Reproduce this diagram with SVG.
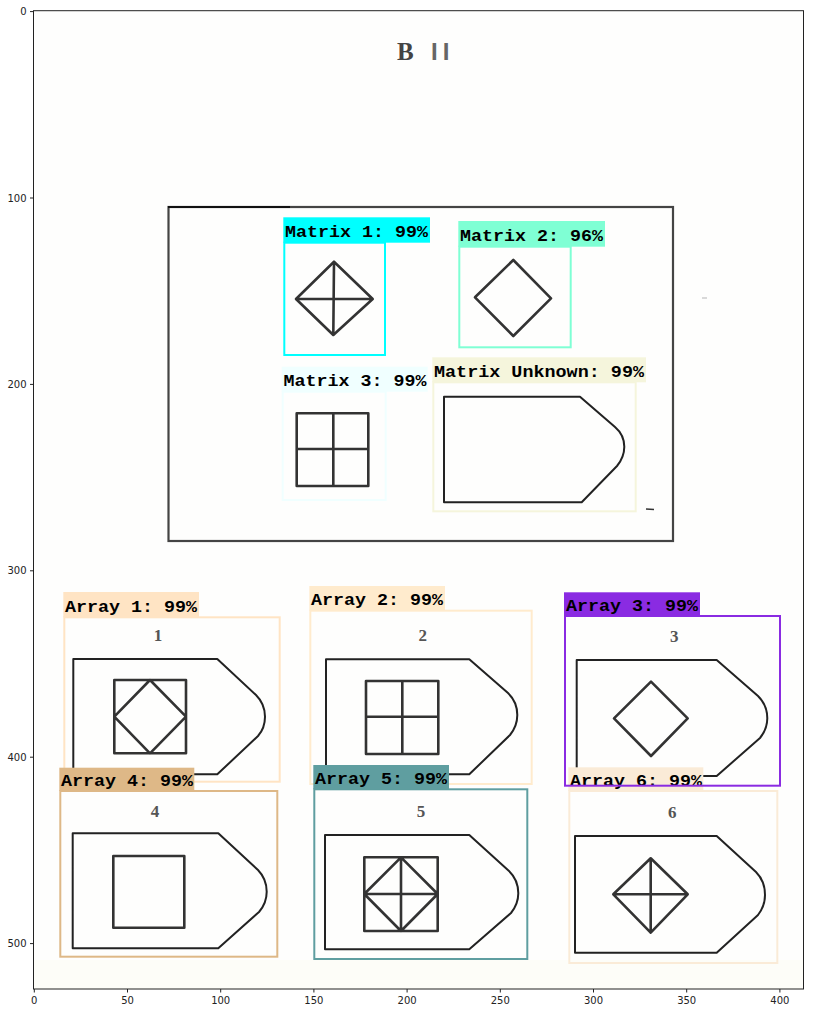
<svg xmlns="http://www.w3.org/2000/svg" width="813" height="1013" viewBox="0 0 813 1013">
<style>
.ax{fill:none;stroke:#222;stroke-width:1}
.tk{stroke:#222;stroke-width:1}
.tl{font-family:"DejaVu Sans",sans-serif;font-size:10px;fill:#222}
.sh{fill:none;stroke:#333;stroke-width:2.6;stroke-linejoin:round}
.pt{fill:none;stroke:#222;stroke-width:2;stroke-linejoin:round}
.bx{fill:none;stroke-width:2}
.lb{font-family:"Liberation Mono",monospace;font-weight:bold;font-size:17px;fill:#000}
.num{font-family:"Liberation Serif",serif;font-weight:bold;font-size:17px;fill:#555;text-anchor:middle}
</style>
<rect width="813" height="1013" fill="#ffffff"/>
<g id="image">
<rect x="33.5" y="10.7" width="770" height="978.3" fill="#fefefd"/>
<rect x="33.5" y="960" width="770" height="29" fill="#fdfdf8"/>
<text x="397" y="60" font-family="Liberation Serif,serif" font-weight="bold" font-size="25" fill="#444">B</text>
<text x="431" y="60" font-family="Liberation Sans,sans-serif" font-weight="bold" font-size="24" fill="#666" letter-spacing="5">II</text>
<rect x="168.5" y="207" width="504.5" height="334" fill="none" stroke="#444" stroke-width="2.2"/>
<line x1="168" y1="207" x2="290" y2="207" stroke="#111" stroke-width="2"/>
<line x1="646" y1="509" x2="654" y2="509.5" stroke="#333" stroke-width="1.5"/>
<line x1="702" y1="298" x2="707" y2="298" stroke="#ccc" stroke-width="1.5"/>
</g>
<g id="matrix-1">
<path class="sh" d="M334,261.7 L372.7,299 L333.3,335 L296,299 Z M334,261.7 L333.3,335 M296,299 L372.7,299"/>
</g>
<g id="matrix-2">
<path class="sh" d="M513.3,260 L551,298.3 L513.3,336 L475,297.3 Z"/>
</g>
<g id="matrix-3">
<path class="sh" d="M296.7,413.3 H368.3 V486 H296.7 Z M333.3,413.3 V486 M296.7,449 H368.3"/>
</g>
<g id="matrix-unknown">
<path class="pt" d="M444,396.7 H580 L615,427 Q624.3,435 624.3,446.7 Q624.3,457 617,466 L581.7,502.3 H444 Z"/>
</g>
<g id="array-1-shape">
<text class="num" x="158" y="641">1</text>
<path class="pt" d="M73.3,659 H217.3 L256,695 Q265,704 265,716.7 Q265,728 258,736 L217.3,774.3 H73.3 Z"/>
<path class="sh" d="M114.3,680 H186 V753.3 H114.3 Z M150,680 L186,716.7 L150,753.3 L114.3,716.7 Z"/>
</g>
<g id="array-2-shape">
<text class="num" x="422.7" y="641">2</text>
<path class="pt" d="M326,659.3 H469.3 L508,693 Q517.3,702 517.3,715 Q517.3,726 510,735 L469.3,774.3 H326 Z"/>
<path class="sh" d="M366,681 H438.3 V754 H366 Z M402.3,681 V754 M366,716.7 H438.3"/>
</g>
<g id="array-3-shape">
<text class="num" x="674.3" y="642">3</text>
<path class="pt" d="M576.7,660 H716.7 L758,696 Q767.3,705 767.3,718.3 Q767.3,729 760,738 L716.7,776 H576.7 Z"/>
<path class="sh" d="M651,681.7 L687.7,718.3 L651,756 L614,718.3 Z"/>
</g>
<g id="array-4-shape">
<text class="num" x="155" y="817">4</text>
<path class="pt" d="M72.7,833.3 H218.3 L258,870 Q266.7,879 266.7,891.7 Q266.7,903 259,912 L218.3,948.3 H72.7 Z"/>
<path class="sh" d="M113.3,856 H184.3 V927.7 H113.3 Z"/>
</g>
<g id="array-5-shape">
<text class="num" x="421" y="817">5</text>
<path class="pt" d="M325,835 H469.3 L509,871 Q518.3,880 518.3,893.3 Q518.3,904 511,913 L469.3,949.3 H325 Z"/>
<path class="sh" d="M364.3,857.3 H437.7 V931 H364.3 Z M401,857.3 L437.7,894 L401,931 L364.3,894 Z M401,857.3 V931 M364.3,894 H437.7"/>
</g>
<g id="array-6-shape">
<text class="num" x="672.3" y="818">6</text>
<path class="pt" d="M575,836 H716.7 L756,872 Q765,881 765,895 Q765,906 758,915 L716.7,952.7 H575 Z"/>
<path class="sh" d="M650.7,858.3 L687.7,894.3 L650.7,932.7 L613.3,894.3 Z M650.7,858.3 V932.7 M613.3,894.3 H687.7"/>
</g>
<g id="det-matrix-1">
<rect class="bx" x="284.3" y="242.7" width="100.7" height="112.3" stroke="#00ffff"/>
<rect x="283.3" y="217.3" width="146.7" height="25.4" fill="#00ffff"/>
<text class="lb" x="285" y="237" textLength="143" lengthAdjust="spacingAndGlyphs">Matrix 1:  99%</text>
</g>
<g id="det-matrix-2">
<rect class="bx" x="459.3" y="246.7" width="111.4" height="100.6" stroke="#7fffd4"/>
<rect x="458.3" y="221" width="146.7" height="25.7" fill="#7fffd4"/>
<text class="lb" x="460" y="240.5" textLength="143" lengthAdjust="spacingAndGlyphs">Matrix 2:  96%</text>
</g>
<g id="det-matrix-3">
<rect class="bx" x="282.7" y="391.7" width="103" height="108.3" stroke="#f0ffff"/>
<rect x="281.7" y="366.7" width="146" height="25" fill="#f0ffff"/>
<text class="lb" x="283.5" y="386" textLength="143" lengthAdjust="spacingAndGlyphs">Matrix 3:  99%</text>
</g>
<g id="det-matrix-unknown">
<rect class="bx" x="433.3" y="382.3" width="202.4" height="129" stroke="#f5f5dc"/>
<rect x="432.3" y="357.3" width="213.7" height="25" fill="#f5f5dc"/>
<text class="lb" x="434" y="376.5" textLength="210" lengthAdjust="spacingAndGlyphs">Matrix Unknown:  99%</text>
</g>
<g id="det-array-1">
<rect class="bx" x="64.3" y="617.3" width="215.4" height="164.4" stroke="#ffe4c4"/>
<rect x="63.3" y="592" width="135.7" height="25.3" fill="#ffe4c4"/>
<text class="lb" x="65" y="611.5" textLength="132" lengthAdjust="spacingAndGlyphs">Array 1:  99%</text>
</g>
<g id="det-array-2">
<rect class="bx" x="310.3" y="610.7" width="221.4" height="173.3" stroke="#ffebcd"/>
<rect x="309.3" y="586" width="135.7" height="24.7" fill="#ffebcd"/>
<text class="lb" x="311" y="605" textLength="132" lengthAdjust="spacingAndGlyphs">Array 2:  99%</text>
</g>
<g id="det-array-4">
<rect class="bx" x="60.3" y="791" width="217" height="165.7" stroke="#deb887"/>
<rect x="59.3" y="767.7" width="135" height="23.3" fill="#deb887"/>
<text class="lb" x="61" y="786" textLength="132" lengthAdjust="spacingAndGlyphs">Array 4:  99%</text>
</g>
<g id="det-array-5">
<rect class="bx" x="314.3" y="789.3" width="213" height="169.7" stroke="#5f9ea0"/>
<rect x="313.3" y="765" width="135.7" height="24.3" fill="#5f9ea0"/>
<text class="lb" x="315" y="784" textLength="132" lengthAdjust="spacingAndGlyphs">Array 5:  99%</text>
</g>
<g id="det-array-6">
<rect class="bx" x="569.3" y="791" width="208" height="172" stroke="#faebd7"/>
<rect x="568.3" y="767.3" width="135" height="23.7" fill="#faebd7"/>
<text class="lb" x="570" y="786" textLength="132" lengthAdjust="spacingAndGlyphs">Array 6:  99%</text>
</g>
<g id="det-array-3">
<rect class="bx" x="565" y="616" width="215" height="169.7" stroke="#8a2be2"/>
<rect x="564" y="592.3" width="136" height="23.7" fill="#8a2be2"/>
<text class="lb" x="566" y="611" textLength="132" lengthAdjust="spacingAndGlyphs">Array 3:  99%</text>
</g>
<g id="axes">
<rect class="ax" x="33.5" y="10.7" width="770" height="978.3"/>
<g class="tk">
<line x1="34.3" y1="989" x2="34.3" y2="992.5"/>
<line x1="127.5" y1="989" x2="127.5" y2="992.5"/>
<line x1="220.7" y1="989" x2="220.7" y2="992.5"/>
<line x1="313.9" y1="989" x2="313.9" y2="992.5"/>
<line x1="407.1" y1="989" x2="407.1" y2="992.5"/>
<line x1="500.3" y1="989" x2="500.3" y2="992.5"/>
<line x1="593.5" y1="989" x2="593.5" y2="992.5"/>
<line x1="686.7" y1="989" x2="686.7" y2="992.5"/>
<line x1="779.9" y1="989" x2="779.9" y2="992.5"/>
<line x1="30" y1="11.6" x2="33.5" y2="11.6"/>
<line x1="30" y1="198" x2="33.5" y2="198"/>
<line x1="30" y1="384.4" x2="33.5" y2="384.4"/>
<line x1="30" y1="570.8" x2="33.5" y2="570.8"/>
<line x1="30" y1="757.2" x2="33.5" y2="757.2"/>
<line x1="30" y1="943.6" x2="33.5" y2="943.6"/>
</g>
<g class="tl" text-anchor="middle">
<text x="34.3" y="1004">0</text>
<text x="127.5" y="1004">50</text>
<text x="220.7" y="1004">100</text>
<text x="313.9" y="1004">150</text>
<text x="407.1" y="1004">200</text>
<text x="500.3" y="1004">250</text>
<text x="593.5" y="1004">300</text>
<text x="686.7" y="1004">350</text>
<text x="779.9" y="1004">400</text>
</g>
<g class="tl" text-anchor="end">
<text x="26.5" y="15.2">0</text>
<text x="26.5" y="201.6">100</text>
<text x="26.5" y="388">200</text>
<text x="26.5" y="574.4">300</text>
<text x="26.5" y="760.8">400</text>
<text x="26.5" y="947.2">500</text>
</g>
</g>
</svg>
